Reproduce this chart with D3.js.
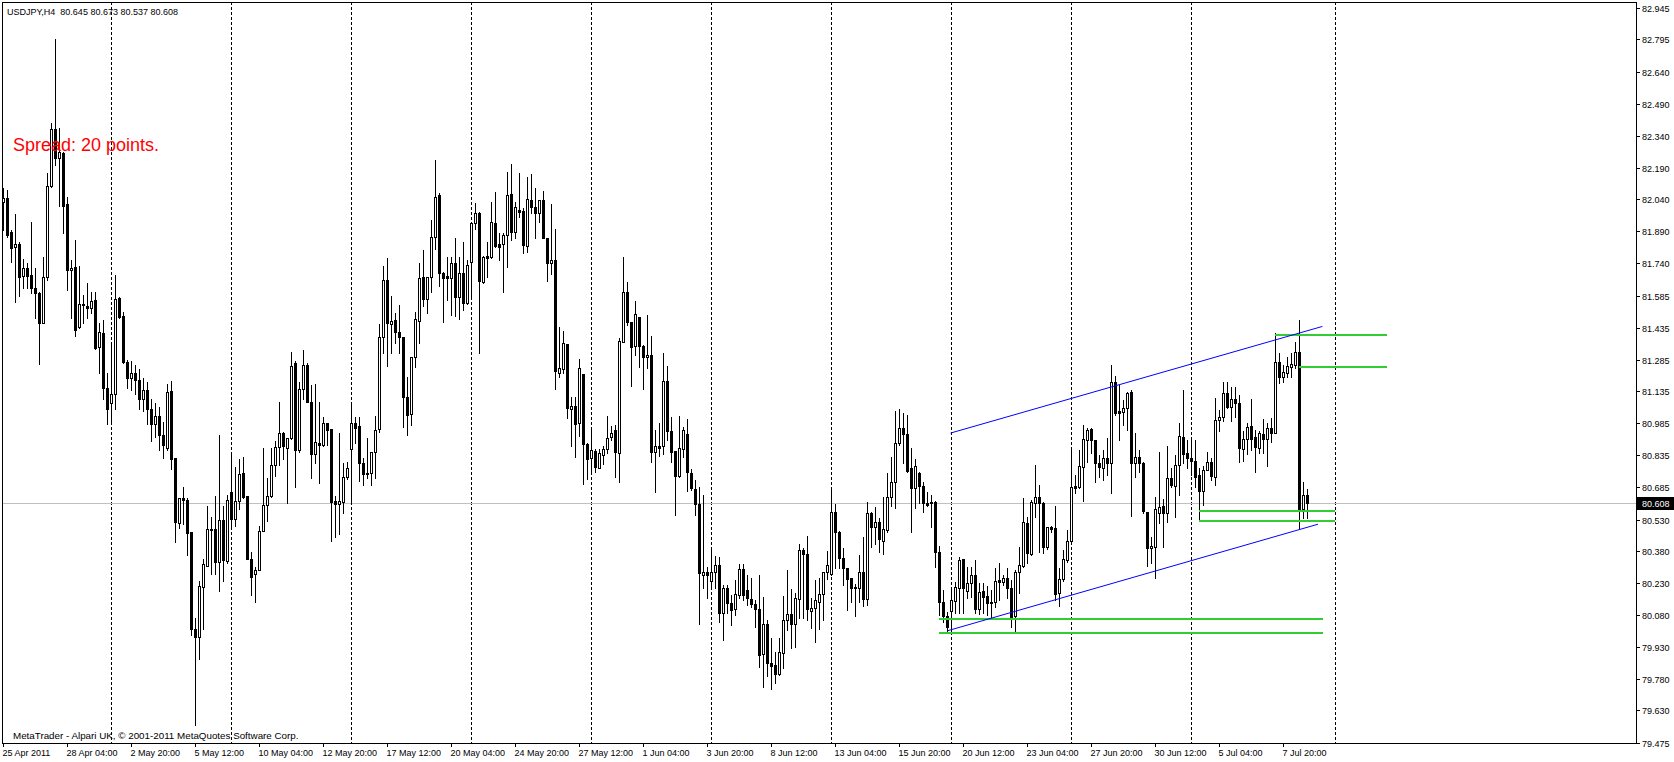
<!DOCTYPE html>
<html>
<head>
<meta charset="utf-8">
<title>USDJPY,H4</title>
<script src="https://cdn.jsdelivr.net/npm/d3@7/dist/d3.min.js"></script>
<style>
  html, body { margin: 0; padding: 0; background: #fff; }
  svg { display: block; }
  text { font-family: "Liberation Sans", Arial, sans-serif; }
</style>
</head>
<body>
<div id="chart"></div>
<script>
// USDJPY H4 bars, 25 Apr 2011 12:00 .. 8 Jul 2011 20:00
const open = [
  82.026,82.045,81.886,81.814,81.828,81.679,81.715,81.684,81.624,81.597,
  81.455,81.676,82.103,82.371,82.234,82.257,82.018,81.707,81.720,81.437,
  81.547,81.539,81.526,81.565,81.342,81.410,81.150,81.080,81.120,81.577,
  81.490,81.275,81.200,81.220,81.190,81.100,81.140,81.050,80.980,81.020,
  80.930,80.866,81.136,80.821,80.514,80.634,80.622,80.469,80.015,79.977,
  80.212,80.313,80.486,80.486,80.329,80.530,80.335,80.661,80.532,80.619,
  80.750,80.643,80.343,80.273,80.291,80.477,80.600,80.643,80.786,80.873,
  80.939,80.869,80.915,81.267,80.857,81.145,81.257,81.084,80.837,80.892,
  80.880,80.985,80.957,80.618,80.602,80.614,80.729,80.861,80.984,80.971,
  80.798,80.751,80.748,80.847,80.955,81.393,81.660,81.451,81.471,81.416,
  81.390,81.106,81.026,81.298,81.468,81.672,81.569,81.672,81.864,82.061,
  81.691,81.679,81.671,81.742,81.578,81.695,81.553,81.746,81.927,81.977,
  81.652,81.773,81.767,81.927,81.828,81.828,81.872,82.066,81.888,81.990,
  81.985,81.822,82.037,82.006,81.978,82.037,81.857,81.742,81.754,81.223,
  81.239,81.358,81.050,81.066,80.987,81.217,80.886,80.822,80.853,80.775,
  80.834,80.861,80.918,80.952,80.845,81.369,81.602,81.463,81.349,81.484,
  81.349,81.295,81.306,80.850,80.879,80.879,81.184,80.948,80.853,80.737,
  80.861,80.934,80.748,80.674,80.603,80.270,80.281,80.242,80.281,80.316,
  80.091,80.205,80.138,80.106,80.174,80.295,80.198,80.155,80.130,80.108,
  79.896,80.036,79.852,79.844,79.800,79.899,80.056,80.084,80.036,80.155,
  80.386,80.366,80.100,80.111,80.143,80.177,80.281,80.273,80.564,80.473,
  80.347,80.300,80.253,80.213,80.205,80.284,80.154,80.559,80.496,80.520,
  80.430,80.481,80.638,80.705,80.893,80.960,80.933,80.771,80.677,80.748,
  80.690,80.606,80.611,80.611,80.375,80.139,80.075,80.100,80.147,80.205,
  80.344,80.194,80.229,80.268,80.108,80.194,80.169,80.138,80.143,80.245,
  80.237,80.256,80.205,80.077,80.284,80.311,80.512,80.367,80.610,80.638,
  80.606,80.399,80.493,80.488,80.185,80.248,80.339,80.430,80.688,80.682,
  80.779,80.905,80.955,80.905,80.795,80.772,80.819,80.798,81.180,81.042,
  81.039,81.055,81.133,80.795,80.827,80.795,80.567,80.394,80.399,80.562,
  80.594,80.559,80.724,80.690,80.787,80.918,80.842,80.819,80.806,80.740,
  80.666,80.764,80.800,80.729,80.999,81.012,81.125,81.059,81.099,81.078,
  80.861,80.908,80.971,80.918,80.866,80.933,80.908,80.960,80.940,81.275,
  81.204,81.220,81.251,81.259,81.322,80.580,80.645
];
const high = [
  82.092,82.084,81.896,81.970,81.841,81.757,81.739,81.933,81.715,81.605,
  81.767,82.166,82.399,82.797,82.375,82.265,82.053,81.754,81.849,81.727,
  81.589,81.644,81.605,81.605,81.455,81.470,81.220,81.360,81.683,81.581,
  81.511,81.282,81.280,81.260,81.240,81.200,81.180,81.100,81.080,81.060,
  80.990,81.171,81.184,80.821,80.631,80.683,80.631,80.469,80.064,80.238,
  80.343,80.596,80.544,80.640,80.927,80.596,80.648,80.849,80.779,80.814,
  80.823,80.643,80.375,80.308,80.500,80.866,80.727,80.866,80.901,81.084,
  80.945,80.915,81.319,81.276,81.180,81.328,81.267,81.163,81.171,81.084,
  81.014,80.985,80.957,80.640,80.940,80.795,80.800,81.074,81.015,81.015,
  80.819,80.913,80.850,81.020,81.452,81.726,81.765,81.584,81.503,81.542,
  81.393,81.201,81.295,81.508,81.739,81.801,81.672,81.943,82.226,82.069,
  81.699,81.767,81.767,81.857,81.767,81.839,81.754,81.930,82.022,81.982,
  81.773,81.841,82.030,82.077,81.880,81.880,82.171,82.207,82.029,82.166,
  81.998,82.147,82.160,82.092,82.037,82.081,81.857,82.018,81.901,81.440,
  81.419,81.358,81.106,81.110,81.287,81.217,80.893,80.960,80.861,80.861,
  80.877,81.020,80.971,80.976,81.385,81.770,81.652,81.463,81.562,81.484,
  81.353,81.495,81.396,80.952,80.987,81.317,81.254,81.012,80.853,81.018,
  80.965,81.004,80.767,80.717,80.685,80.646,80.305,80.394,80.358,80.355,
  80.221,80.221,80.174,80.245,80.320,80.320,80.268,80.253,80.150,80.268,
  80.166,80.056,79.970,79.907,79.970,80.169,80.292,80.201,80.182,80.415,
  80.394,80.452,80.158,80.245,80.253,80.284,80.382,80.682,80.603,80.476,
  80.394,80.300,80.253,80.226,80.363,80.449,80.614,80.565,80.588,80.536,
  80.638,80.748,80.827,81.043,81.050,81.031,81.023,80.866,80.814,80.756,
  80.709,80.661,80.646,80.619,80.407,80.198,80.095,80.213,80.237,80.352,
  80.344,80.308,80.308,80.339,80.229,80.232,80.216,80.198,80.300,80.323,
  80.268,80.300,80.245,80.292,80.402,80.630,80.544,80.622,80.787,80.693,
  80.614,80.496,80.500,80.594,80.300,80.386,80.481,80.874,80.740,80.858,
  80.976,80.960,80.960,80.905,80.834,80.858,80.913,81.259,81.207,81.165,
  81.094,81.133,81.141,80.937,80.858,80.803,80.567,80.449,80.638,80.850,
  80.625,80.877,80.771,80.834,80.984,81.141,80.905,80.905,80.905,80.771,
  80.782,80.850,80.819,81.102,81.047,81.180,81.180,81.154,81.154,81.117,
  80.948,80.984,81.097,80.953,80.948,81.006,80.987,81.007,81.408,81.314,
  81.259,81.298,81.314,81.366,81.471,80.709,80.673
];
const low = [
  81.896,81.864,81.746,81.558,81.586,81.624,81.621,81.597,81.479,81.262,
  81.455,81.660,82.100,82.202,82.010,81.880,81.613,81.479,81.396,81.432,
  81.455,81.479,81.503,81.333,81.220,81.100,80.980,80.980,81.050,81.479,
  81.267,81.150,81.140,81.120,81.050,81.040,80.980,80.900,80.920,80.860,
  80.820,80.857,80.770,80.422,80.491,80.509,80.361,79.986,79.559,79.872,
  80.012,80.312,80.273,80.273,80.195,80.238,80.326,80.500,80.500,80.579,
  80.631,80.343,80.172,80.142,80.291,80.474,80.521,80.636,80.735,80.788,
  80.814,80.608,80.910,80.683,80.849,81.101,81.084,80.727,80.797,80.701,
  80.875,80.884,80.431,80.450,80.460,80.562,80.720,80.607,80.890,80.712,
  80.693,80.724,80.693,80.724,80.945,81.317,81.256,81.314,81.361,81.317,
  80.965,80.929,80.976,81.251,81.361,81.537,81.503,81.605,81.805,81.632,
  81.463,81.566,81.495,81.490,81.474,81.518,81.545,81.573,81.900,81.314,
  81.647,81.676,81.762,81.814,81.754,81.605,81.723,81.849,81.857,81.959,
  81.789,81.794,81.974,81.860,81.935,81.857,81.657,81.688,81.146,81.204,
  81.223,81.007,80.877,80.824,80.924,80.696,80.720,80.751,80.756,80.772,
  80.792,80.842,80.905,80.729,80.706,81.369,81.448,81.161,81.306,81.248,
  81.144,81.243,80.803,80.658,80.830,80.839,80.905,80.803,80.551,80.729,
  80.823,80.666,80.669,80.551,80.037,80.205,80.158,80.213,80.205,80.048,
  79.962,80.088,80.033,80.080,80.158,80.150,80.127,80.119,80.025,79.833,
  79.742,79.792,79.729,79.758,79.797,79.828,80.009,79.923,79.930,80.064,
  80.064,80.056,80.017,79.954,80.012,80.056,80.248,80.268,80.300,80.300,
  80.221,80.103,80.143,80.076,80.143,80.122,80.127,80.402,80.413,80.378,
  80.367,80.473,80.594,80.583,80.882,80.798,80.756,80.473,80.583,80.606,
  80.564,80.594,80.496,80.308,80.080,80.048,79.998,80.001,80.088,80.088,
  80.088,80.158,80.166,80.088,80.083,80.088,80.080,80.069,80.119,80.150,
  80.221,80.158,80.025,80.004,80.182,80.308,80.327,80.363,80.544,80.379,
  80.371,80.391,80.473,80.150,80.122,80.240,80.331,80.426,80.657,80.680,
  80.619,80.803,80.842,80.709,80.732,80.717,80.740,80.654,81.023,80.905,
  80.976,80.952,80.548,80.729,80.756,80.559,80.311,80.323,80.253,80.512,
  80.402,80.520,80.685,80.543,80.646,80.795,80.771,80.740,80.685,80.525,
  80.599,80.764,80.716,80.693,80.949,80.996,81.054,80.996,81.012,80.803,
  80.808,80.839,80.858,80.756,80.845,80.842,80.784,80.897,80.937,81.172,
  81.180,81.201,81.201,81.243,80.492,80.536,80.537
];
const close = [
  82.045,81.872,81.809,81.828,81.676,81.715,81.679,81.621,81.597,81.455,
  81.672,82.103,82.371,82.234,82.262,82.010,81.707,81.718,81.424,81.545,
  81.540,81.526,81.562,81.337,81.413,81.150,81.050,81.120,81.570,81.487,
  81.275,81.200,81.220,81.190,81.100,81.140,81.050,80.980,81.020,80.930,
  80.880,81.131,80.814,80.517,80.631,80.622,80.465,80.012,79.977,80.216,
  80.320,80.486,80.480,80.331,80.530,80.338,80.622,80.532,80.619,80.743,
  80.636,80.343,80.260,80.291,80.477,80.600,80.643,80.786,80.873,80.939,
  80.878,80.915,81.253,80.857,81.145,81.257,81.084,80.837,80.896,80.880,
  80.985,80.953,80.614,80.602,80.618,80.729,80.772,80.984,80.960,80.798,
  80.743,80.743,80.847,80.952,81.390,81.660,81.456,81.467,81.416,81.390,
  81.106,81.023,81.295,81.474,81.668,81.569,81.672,81.861,82.053,81.695,
  81.671,81.671,81.742,81.578,81.695,81.553,81.731,81.927,81.974,81.657,
  81.770,81.762,81.935,81.820,81.817,81.872,82.061,81.888,82.003,81.982,
  81.825,82.040,82.003,81.978,82.037,81.857,81.742,81.754,81.232,81.243,
  81.364,81.055,81.066,80.981,81.243,80.886,80.814,80.858,80.779,80.845,
  80.861,80.913,80.937,80.850,81.374,81.602,81.463,81.346,81.498,81.349,
  81.295,81.306,80.850,80.877,80.868,81.184,80.949,80.850,80.737,80.866,
  80.952,80.753,80.677,80.602,80.276,80.281,80.270,80.281,80.316,80.088,
  80.205,80.138,80.103,80.179,80.295,80.174,80.158,80.132,80.108,79.891,
  80.036,79.852,79.839,79.800,79.904,80.056,80.084,80.036,80.158,80.386,
  80.366,80.106,80.111,80.150,80.177,80.281,80.316,80.564,80.473,80.347,
  80.300,80.249,80.205,80.205,80.284,80.154,80.559,80.496,80.520,80.437,
  80.484,80.638,80.705,80.893,80.960,80.933,80.760,80.677,80.782,80.690,
  80.606,80.598,80.606,80.375,80.139,80.075,80.022,80.150,80.210,80.339,
  80.205,80.229,80.268,80.108,80.190,80.163,80.138,80.143,80.240,80.237,
  80.256,80.205,80.072,80.284,80.316,80.517,80.371,80.611,80.638,80.606,
  80.399,80.493,80.485,80.179,80.248,80.342,80.430,80.685,80.680,80.783,
  80.908,80.952,80.905,80.795,80.776,80.819,80.798,81.180,81.034,81.034,
  81.055,81.128,80.795,80.827,80.795,80.572,80.394,80.405,80.580,80.591,
  80.559,80.724,80.693,80.787,80.924,80.839,80.819,80.806,80.729,80.666,
  80.764,80.800,80.737,80.999,81.015,81.128,81.062,81.097,81.078,80.866,
  80.908,80.968,80.908,80.871,80.937,80.908,80.960,80.937,81.275,81.204,
  81.224,81.254,81.264,81.322,80.580,80.645,80.608
];

const priceTicks = [82.945, 82.795, 82.640, 82.490, 82.340, 82.190, 82.040, 81.890,
  81.740, 81.585, 81.435, 81.285, 81.135, 80.985, 80.835, 80.685, 80.530, 80.380,
  80.230, 80.080, 79.930, 79.780, 79.630, 79.475];
const timeLabels = ["25 Apr 2011", "28 Apr 04:00", "2 May 20:00", "5 May 12:00",
  "10 May 04:00", "12 May 20:00", "17 May 12:00", "20 May 04:00", "24 May 20:00",
  "27 May 12:00", "1 Jun 04:00", "3 Jun 20:00", "8 Jun 12:00", "13 Jun 04:00",
  "15 Jun 20:00", "20 Jun 12:00", "23 Jun 04:00", "27 Jun 20:00", "30 Jun 12:00",
  "5 Jul 04:00", "7 Jul 20:00"];
const labelEvery = 16; // bars between two time labels
const weekStarts = [27, 57, 87, 117, 147, 177, 207, 237, 267, 297, 333];
const lastPrice = 80.608;
const header = "USDJPY,H4  80.645 80.673 80.537 80.608";

// horizontal levels drawn on the chart: [from bar, to bar, price]
const greenLevels = [
  [318, 346, 81.407], [324, 346, 81.256],
  [299, 333, 80.577], [299, 333, 80.529],
  [234, 330, 80.067], [234, 330, 80.001]
];
// channel trend lines: [[bar, price], [bar, price]]
const channelLines = [
  [[236.9, 80.938], [329.85, 81.441]],
  [[236.25, 80.006], [328.75, 80.508]]
];

const W = 1674, H = 762;
const plot = { left: 2, top: 2, right: 1636, bottom: 743 };

const svg = d3.select("#chart").append("svg")
  .attr("width", W)
  .attr("height", H)
  .attr("viewBox", `0 0 ${W} ${H}`);

svg.append("rect").attr("width", W).attr("height", H).attr("fill", "#fff");

const x = d3.scaleLinear().domain([0, 408]).range([3, 3 + 4 * 408]);
const y = d3.scaleLinear().domain([79.475, 82.945]).range([743.2, 7.6]);
const col = (i) => Math.round(x(i));
const row = (p) => Math.round(y(p));

const bars = close.map((c, i) => ({
  i,
  o: open[i],
  h: Math.max(high[i], open[i], c),
  l: Math.min(low[i], open[i], c),
  c,
}));

const chart = svg.append("g").attr("shape-rendering", "crispEdges");

// weekly separators
chart.append("g")
  .selectAll("line")
  .data(weekStarts)
  .join("line")
  .attr("x1", (d) => col(d) + 0.5)
  .attr("x2", (d) => col(d) + 0.5)
  .attr("y1", plot.top)
  .attr("y2", plot.bottom)
  .attr("stroke", "#000")
  .attr("stroke-width", 1)
  .attr("stroke-dasharray", "3,2");

// bid line
chart.append("line")
  .attr("x1", plot.left)
  .attr("x2", plot.right)
  .attr("y1", row(lastPrice) + 0.5)
  .attr("y2", row(lastPrice) + 0.5)
  .attr("stroke", "#c0c0c0");

// wicks
chart.append("g")
  .selectAll("line")
  .data(bars)
  .join("line")
  .attr("x1", (d) => col(d.i) + 0.5)
  .attr("x2", (d) => col(d.i) + 0.5)
  .attr("y1", (d) => row(d.h))
  .attr("y2", (d) => row(d.l) + 1)
  .attr("stroke", "#000");

// bodies
chart.append("g")
  .selectAll("path")
  .data(bars)
  .join("path")
  .attr("d", (d) => {
    const c = col(d.i);
    const t = row(Math.max(d.o, d.c));
    const b = row(Math.min(d.o, d.c));
    if (b - t < 1) return `M${c - 1},${t + 0.5}H${c + 2}`;
    return `M${c - 0.5},${t + 0.5}H${c + 1.5}V${b + 0.5}H${c - 0.5}Z`;
  })
  .attr("fill", (d) => (d.c > d.o ? "#fff" : "#000"))
  .attr("stroke", "#000");

// green levels
chart.append("g")
  .selectAll("line")
  .data(greenLevels)
  .join("line")
  .attr("x1", (d) => col(d[0]))
  .attr("x2", (d) => col(d[1]))
  .attr("y1", (d) => row(d[2]) + 0.5)
  .attr("y2", (d) => row(d[2]) + 0.5)
  .attr("stroke", "#32cd32")
  .attr("stroke-width", 2);

// channel
svg.append("g")
  .selectAll("line")
  .data(channelLines)
  .join("line")
  .attr("x1", (d) => x(d[0][0]))
  .attr("y1", (d) => y(d[0][1]))
  .attr("x2", (d) => x(d[1][0]))
  .attr("y2", (d) => y(d[1][1]))
  .attr("stroke", "#0000ff")
  .attr("stroke-width", 1);

// frame
svg.append("rect")
  .attr("x", plot.left + 0.5)
  .attr("y", plot.top + 0.5)
  .attr("width", plot.right - plot.left)
  .attr("height", plot.bottom - plot.top)
  .attr("fill", "none")
  .attr("stroke", "#000")
  .attr("shape-rendering", "crispEdges");

// price axis
const yAxis = svg.append("g").attr("shape-rendering", "crispEdges");
const yt = yAxis.selectAll("g").data(priceTicks).join("g")
  .attr("transform", (d) => `translate(0,${row(d) + 0.5})`);
yt.append("line")
  .attr("x1", plot.right + 1).attr("x2", plot.right + 4)
  .attr("stroke", "#000");
yt.append("text")
  .attr("x", plot.right + 6)
  .attr("dy", "0.35em")
  .attr("font-size", 9)
  .attr("fill", "#000")
  .text((d) => d.toFixed(3));

// last price box
const lp = svg.append("g").attr("transform", `translate(0,${row(lastPrice) + 0.5})`);
lp.append("rect")
  .attr("x", plot.right + 1)
  .attr("y", -6.5)
  .attr("width", W - plot.right - 1)
  .attr("height", 13)
  .attr("fill", "#000");
lp.append("text")
  .attr("x", plot.right + 6)
  .attr("dy", "0.35em")
  .attr("font-size", 9)
  .attr("fill", "#fff")
  .text(lastPrice.toFixed(3));

// time axis
const xt = svg.append("g").selectAll("g").data(timeLabels).join("g")
  .attr("transform", (_d, i) => `translate(${col(i * labelEvery) + 0.5},0)`);
xt.append("line")
  .attr("y1", plot.bottom + 1).attr("y2", plot.bottom + 4)
  .attr("stroke", "#000")
  .attr("shape-rendering", "crispEdges");
xt.append("text")
  .attr("x", -1)
  .attr("y", 756)
  .attr("font-size", 9)
  .attr("fill", "#000")
  .text((d) => d);

// texts
svg.append("text")
  .attr("x", 7)
  .attr("y", 14.5)
  .attr("font-size", 9)
  .style("white-space", "pre")
  .attr("fill", "#000")
  .text(header);

svg.append("text")
  .attr("x", 13)
  .attr("y", 151)
  .attr("font-size", 18)
  .attr("fill", "#ff0000")
  .text("Spread: 20 points.");

svg.append("text")
  .attr("x", 13)
  .attr("y", 739)
  .attr("font-size", 9.8)
  .attr("fill", "#000")
  .text("MetaTrader - Alpari UK, © 2001-2011 MetaQuotes Software Corp.");
</script>
</body>
</html>
